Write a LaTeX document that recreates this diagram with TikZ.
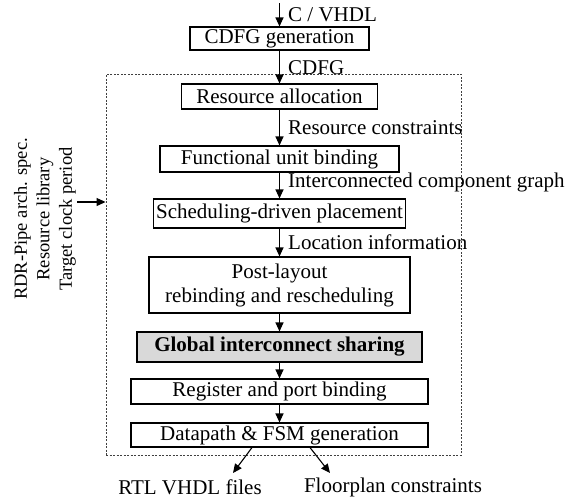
\documentclass[tikz,border=0pt]{standalone}
\usepackage{fontspec}
\setmainfont{Liberation Serif}
\usetikzlibrary{arrows.meta}
\begin{document}
\begin{tikzpicture}[x=1pt,y=-1pt,
  every node/.style={font=\fontsize{21}{24}\selectfont},
  box/.style={draw, line width=1.1pt, inner sep=0pt, align=center},
  arr/.style={line width=1.1pt, -{Triangle[length=9pt,width=8pt]}},
  lbl/.style={anchor=west, inner sep=0pt},
  frame/.style={draw=black!75, line width=0.9pt, dash pattern=on 2pt off 1.5pt, inner sep=0pt}
]
\useasboundingbox (0,0) rectangle (570,499);
\node[frame, minimum width=355pt, minimum height=381pt] (fr) at (283.5,264.5) {};
\node[box, minimum width=179pt, minimum height=23pt] (cdfg) at (279.5,38.5) {CDFG generation};
\node[box, minimum width=196pt, minimum height=25pt] (ra) at (279.5,96.5) {Resource allocation};
\node[box, minimum width=239pt, minimum height=26pt] (fu) at (279.5,159) {Functional unit binding};
\node[box, minimum width=252pt, minimum height=29pt] (sp) at (279.5,213.5) {Scheduling-driven placement};
\node[box, minimum width=261pt, minimum height=56pt] (pl) at (279.5,285) {Post-layout\\rebinding and rescheduling};
\node[box, fill=black!15, minimum width=285pt, minimum height=30pt] (gi) at (279.5,347) {\bfseries Global interconnect sharing};
\node[box, minimum width=297pt, minimum height=25pt] (rp) at (279.5,391.5) {Register and port binding};
\node[box, minimum width=297pt, minimum height=24pt] (dp) at (279.5,435) {Datapath \& FSM generation};

\coordinate (in) at (279.5,3);
\draw[arr] (in) -- (cdfg.north);
\node[lbl] (l0) at (288,15) {C / VHDL};
\draw[arr] (cdfg.south) -- (ra.north);
\node[lbl] (l1) at (288,68) {CDFG};
\draw[arr] (ra.south) -- (fu.north);
\node[lbl] (l2) at (288,128) {Resource constraints};
\draw[arr] (fu.south) -- (sp.north);
\node[lbl] (l3) at (288,182) {Interconnected component graph};
\draw[arr] (sp.south) -- (pl.north);
\node[lbl] (l4) at (288,242) {Location information};
\draw[arr] (pl.south) -- (gi.north);
\draw[arr] (gi.south) -- (rp.north);
\draw[arr] (rp.south) -- (dp.north);

\node[rotate=90, align=center, font=\fontsize{18.5}{22.5}\selectfont] (side) at (45,219) {RDR-Pipe arch. spec.\\Resource library\\Target clock period};
\coordinate (sin) at (77,202);
\draw[arr] (sin) -- (sin -| fr.west);

\coordinate (o1) at (233,473);
\coordinate (o2) at (330,473);
\draw[arr] ([xshift=-27.5pt]dp.south) -- (o1);
\draw[arr] ([xshift=30.5pt]dp.south) -- (o2);
\node (rtl) at (190,487) {RTL VHDL files};
\node (fp) at (393,487) {Floorplan constraints};
\end{tikzpicture}
\end{document}
